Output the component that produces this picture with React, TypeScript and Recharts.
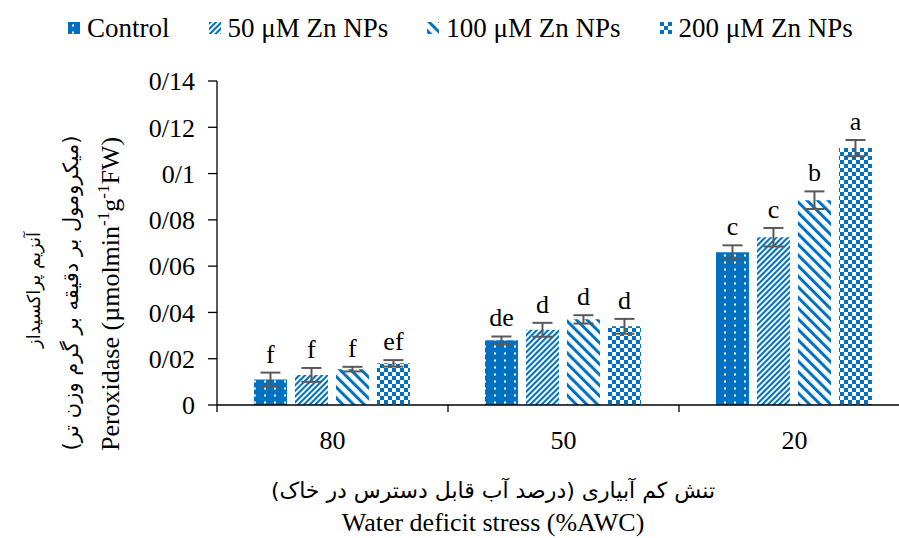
import React from 'react';
import { BarChart, Bar, XAxis, YAxis, ErrorBar, LabelList, Legend } from 'recharts';

const BLUE = '#0070C0';
const SERIF = "'Liberation Serif', 'Times New Roman', serif";
const ARABIC = "'DejaVu Sans', sans-serif";

const categories = ['80', '50', '20'];
const controlValues = [0.011, 0.028, 0.066];
const zn50Values = [0.013, 0.0325, 0.0725];
const zn100Values = [0.0155, 0.037, 0.0885];
const zn200Values = [0.018, 0.034, 0.111];
const controlErr = [0.003, 0.0016, 0.003];
const zn50Err = [0.003, 0.003, 0.004];
const zn100Err = [0.001, 0.0018, 0.0038];
const zn200Err = [0.0014, 0.0032, 0.0035];
const controlLetters = ['f', 'de', 'c'];
const zn50Letters = ['f', 'd', 'c'];
const zn100Letters = ['f', 'd', 'b'];
const zn200Letters = ['ef', 'd', 'a'];
const yTicks = [0, 0.02, 0.04, 0.06, 0.08, 0.1, 0.12, 0.14];
const seriesNames = ['Control', '50 μM Zn NPs', '100 μM Zn NPs', '200 μM Zn NPs'];
const patternIds = ['pCtrl', 'p50', 'p100', 'p200'];

const data = categories.map((c, i) => ({
  cat: c,
  control: controlValues[i],
  zn50: zn50Values[i],
  zn100: zn100Values[i],
  zn200: zn200Values[i],
  controlErr: controlErr[i],
  zn50Err: zn50Err[i],
  zn100Err: zn100Err[i],
  zn200Err: zn200Err[i],
}));

const makeLetter = (values: number[], errs: number[], letters: string[]) => (props: any) => {
  const vb = props.viewBox || {};
  const x = props.x ?? vb.x;
  const y = props.y ?? vb.y;
  const w = props.width ?? vb.width;
  const h = props.height ?? vb.height;
  const i = props.index;
  if (i == null || x == null) return null;
  const v = values[i];
  const ppu = h / v;
  const top = y - errs[i] * ppu;
  return (
    <text x={x + w / 2} y={top - 10} textAnchor="middle" fontFamily={SERIF} fontSize={26} fill="#000">
      {letters[i]}
    </text>
  );
};

const XTick = (props: any) => {
  const { x, y, payload } = props;
  const half = payload && payload.offset ? payload.offset : 0;
  return (
    <g>
      <line x1={x - half} x2={x - half} y1={y} y2={y + 7} stroke="#000" strokeWidth={1.3} />
      <text x={x} y={y + 44} textAnchor="middle" fontFamily={SERIF} fontSize={26} fill="#000">
        {payload.value}
      </text>
    </g>
  );
};

const XLabel = () => (
  <g>
    <text x={493} y={498} textAnchor="middle" fontFamily={ARABIC} fontSize={22} fill="#000" direction="rtl">
      تنش کم آبیاری (درصد آب قابل دسترس در خاک)
    </text>
    <text x={493} y={531} textAnchor="middle" fontFamily={SERIF} fontSize={26} fill="#000">
      Water deficit stress (%AWC)
    </text>
  </g>
);

const YLabel = () => (
  <g>
    <text transform="translate(33,290) rotate(-90)" textAnchor="middle" dominantBaseline="central" fontFamily={ARABIC} fontSize={18} fill="#000" direction="rtl">
      آنزیم پراکسیداز
    </text>
    <text transform="translate(71,293) rotate(-90)" textAnchor="middle" dominantBaseline="central" fontFamily={ARABIC} fontSize={21} fill="#000" direction="rtl">
      (میکرومول بر دقیقه بر گرم وزن تر)
    </text>
    <text transform="translate(119,294) rotate(-90)" textAnchor="middle" fontFamily={SERIF} fontSize={26} fill="#000">
      Peroxidase (µmolmin<tspan dy={-10} fontSize={17}>-1</tspan>
      <tspan dy={10}>g</tspan>
      <tspan dy={-10} fontSize={17}>-1</tspan>
      <tspan dy={10}>FW)</tspan>
    </text>
  </g>
);

const LegendContent = () => (
  <div style={{ height: 73, display: 'flex', alignItems: 'flex-start', paddingLeft: 68, boxSizing: 'border-box' }}>
    {seriesNames.map((n, i) => (
      <div key={n} style={{ display: 'flex', alignItems: 'center', height: 40, marginRight: 39 }}>
        <svg width={12} height={12} style={{ marginRight: 7 }}>
          <rect width={12} height={12} fill={`url(#${patternIds[i]})`} />
        </svg>
        <span style={{ fontFamily: SERIF, fontSize: 27, color: '#000', whiteSpace: 'nowrap' }}>{n}</span>
      </div>
    ))}
  </div>
);

export default function App() {
  return (
    <div style={{ position: 'absolute', left: 0, top: 0, width: 899, height: 538, overflow: 'hidden', background: '#fff' }}>
      <BarChart
        width={920}
        height={538}
        data={data}
        margin={{ top: 8, right: 10, bottom: 0, left: 0 }}
        barCategoryGap="16%"
        barGap={8}
      >
        <defs>
          <pattern id="pCtrl" width={10} height={7} patternUnits="userSpaceOnUse">
            <rect width={10} height={7} fill={BLUE} />
            <rect x={4} y={2.5} width={2} height={2} fill="#fff" />
          </pattern>
          <pattern id="p50" width={4} height={4} patternUnits="userSpaceOnUse" patternTransform="rotate(45)">
            <rect width={4} height={4} fill="#fff" />
            <rect width={2.1} height={4} fill={BLUE} />
          </pattern>
          <pattern id="p100" width={7.5} height={7.5} patternUnits="userSpaceOnUse" patternTransform="rotate(-45)">
            <rect width={7.5} height={7.5} fill="#fff" />
            <rect width={3} height={7.5} fill={BLUE} />
          </pattern>
          <pattern id="p200" width={8} height={8} patternUnits="userSpaceOnUse">
            <rect width={8} height={8} fill="#fff" />
            <rect width={4} height={4} fill={BLUE} />
            <rect x={4} y={4} width={4} height={4} fill={BLUE} />
          </pattern>
        </defs>
        <Legend verticalAlign="top" align="left" content={<LegendContent />} />
        <XAxis
          dataKey="cat"
          height={133}
          tickLine={false}
          tickSize={0}
          tickMargin={0}
          axisLine={{ stroke: '#000', strokeWidth: 1.3 }}
          tick={<XTick />}
          interval={0}
          label={{ content: <XLabel /> } as any}
        />
        <YAxis
          width={217}
          domain={[0, 0.14]}
          ticks={yTicks}
          interval={0}
          tickSize={9}
          tickMargin={13}
          tickLine={{ stroke: '#000', strokeWidth: 1.3 }}
          axisLine={{ stroke: '#000', strokeWidth: 1.3 }}
          tick={{ fontFamily: SERIF, fontSize: 26, fill: '#000' }}
          tickFormatter={(v: number) => String(v).replace('.', '/')}
          label={{ content: <YLabel /> } as any}
        />
        <Bar dataKey="control" name={seriesNames[0]} fill="url(#pCtrl)" isAnimationActive={false}>
          <ErrorBar dataKey="controlErr" width={10} strokeWidth={2} stroke="#595959" direction="y" />
          <LabelList dataKey="control" content={makeLetter(controlValues, controlErr, controlLetters)} />
        </Bar>
        <Bar dataKey="zn50" name={seriesNames[1]} fill="url(#p50)" isAnimationActive={false}>
          <ErrorBar dataKey="zn50Err" width={10} strokeWidth={2} stroke="#595959" direction="y" />
          <LabelList dataKey="zn50" content={makeLetter(zn50Values, zn50Err, zn50Letters)} />
        </Bar>
        <Bar dataKey="zn100" name={seriesNames[2]} fill="url(#p100)" isAnimationActive={false}>
          <ErrorBar dataKey="zn100Err" width={10} strokeWidth={2} stroke="#595959" direction="y" />
          <LabelList dataKey="zn100" content={makeLetter(zn100Values, zn100Err, zn100Letters)} />
        </Bar>
        <Bar dataKey="zn200" name={seriesNames[3]} fill="url(#p200)" isAnimationActive={false}>
          <ErrorBar dataKey="zn200Err" width={10} strokeWidth={2} stroke="#595959" direction="y" />
          <LabelList dataKey="zn200" content={makeLetter(zn200Values, zn200Err, zn200Letters)} />
        </Bar>
      </BarChart>
    </div>
  );
}
